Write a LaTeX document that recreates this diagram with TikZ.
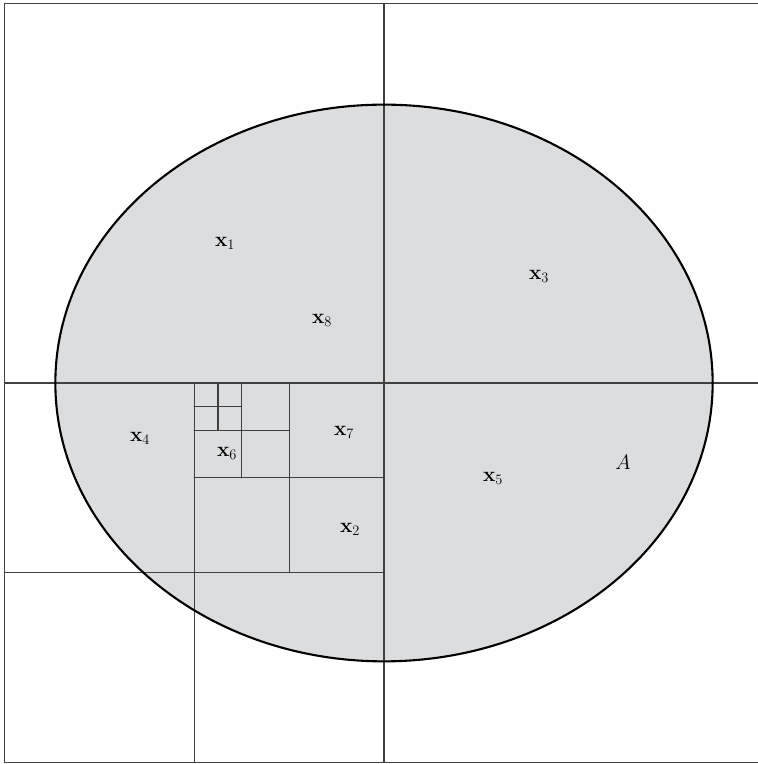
\documentclass[tikz,border=0pt]{standalone}
\definecolor{regiongray}{RGB}{220,221,223}
\begin{document}
\begin{tikzpicture}[
        x=94.875pt, y=94.875pt,
        line cap=round, line join=round,
        cell/.style={line width=1.1pt, black!75},
        region/.style={line width=2.1pt, black},
        sample/.style={font=\fontsize{20}{24}\selectfont, inner sep=0pt}]
        \useasboundingbox (-0.0474,-0.0158) rectangle (7.942,8.0369);
        \clip (-0.0474,-0.0158) rectangle (7.942,8.0369);
        \fill[regiongray] (4,4) ellipse [x radius=3.464, y radius=2.934];
        \draw[cell] (8,8) -- (0,8) -- (0,0) -- (8,0);
        \draw[cell] (4,0) -- (4,8) (0,4) -- (8,4);
        \draw[cell] (0,2) -- (4,2) (2,0) -- (2,4);
        \draw[cell] (3,2) -- (3,4) (2,3) -- (4,3);
        \draw[cell] (2.5,3) -- (2.5,4) (2,3.5) -- (3,3.5);
        \draw[cell] (2.25,3.5) -- (2.25,4) (2,3.75) -- (2.5,3.75);
        \draw[region] (4,4) ellipse [x radius=3.464, y radius=2.934];
        \node[sample] (x1) at (2.324,5.476) {$\mathbf{x}_1$};
        \node[sample] (x8) at (3.347,4.664) {$\mathbf{x}_8$};
        \node[sample] (x3) at (5.634,5.128) {$\mathbf{x}_3$};
        \node[sample] (x4) at (1.428,3.420) {$\mathbf{x}_4$};
        \node[sample] (x6) at (2.345,3.262) {$\mathbf{x}_6$};
        \node[sample] (x7) at (3.578,3.484) {$\mathbf{x}_7$};
        \node[sample] (x2) at (3.642,2.461) {$\mathbf{x}_2$};
        \node[sample] (x5) at (5.149,2.999) {$\mathbf{x}_5$};
        \node[sample] (setA) at (6.519,3.167) {$A$};
    \end{tikzpicture}
\end{document}
